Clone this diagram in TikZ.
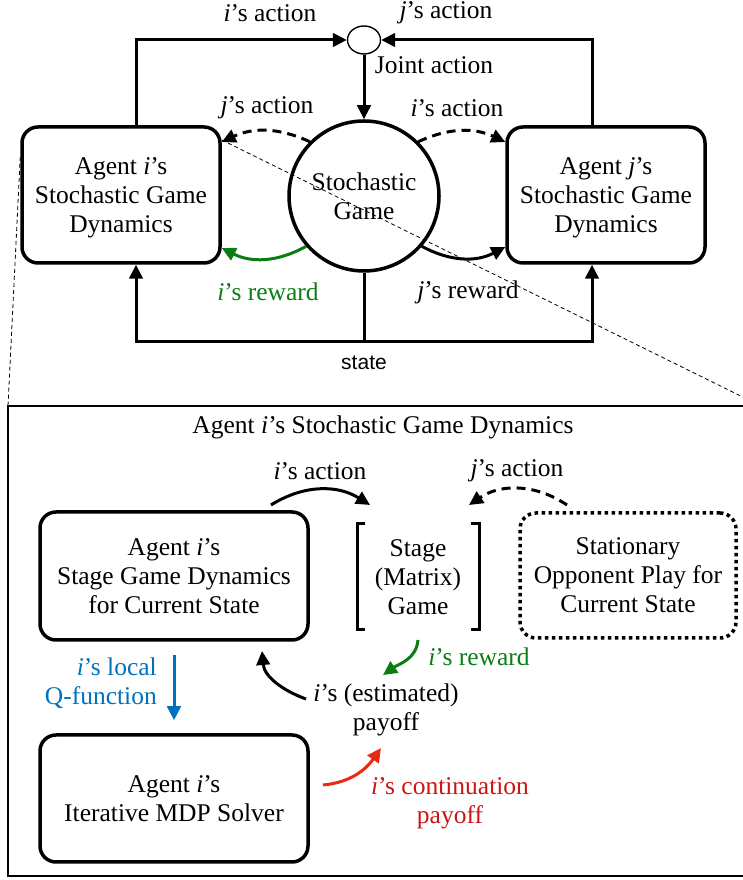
\documentclass[tikz,border=0pt]{standalone}
\usepackage{fontspec}
\setmainfont{Liberation Serif}
\setsansfont{Liberation Sans}
\usetikzlibrary{arrows.meta,shapes.geometric,calc}
\definecolor{mygreen}{RGB}{10,125,20}
\definecolor{myblue}{RGB}{0,114,188}
\definecolor{myred}{RGB}{205,20,20}
\definecolor{myredarrow}{RGB}{235,40,20}
\begin{document}
\begin{tikzpicture}[x=1pt,y=1pt,
  every node/.style={font=\fontsize{25.5}{29}\selectfont, inner sep=0pt, align=center},
  rbox/.style={draw, line width=3.5pt, rounded corners=16pt, minimum width=198pt, minimum height=136pt},
  sbox/.style={draw, line width=3.5pt, rounded corners=16pt, minimum width=268pt, minimum height=128pt},
  arr/.style={line width=3pt, -{Triangle[length=14pt,width=13.5pt]}},
  dasharr/.style={arr, dash pattern=on 9pt off 6pt},
  zoomline/.style={line width=0.8pt, dash pattern=on 4pt off 3pt},
  brk/.style={line width=3pt}
]
\useasboundingbox (0,0) rectangle (743,880);
\clip (0,0) rectangle (743,880);

% ---------- upper part ----------
\node[draw, ellipse, line width=1.4pt, minimum width=33pt, minimum height=28pt] (sc) at (364,840) {};
\node[draw, circle, line width=3.5pt, minimum size=150pt] (sg) at (364,684) {Stochastic\\Game};
\node[rbox, label={[yshift=-3pt]center:Agent \textit{i}’s\\Stochastic Game\\Dynamics}] (agi) at (121,685) {};
\node[rbox, label={[yshift=-3pt]center:Agent \textit{j}’s\\Stochastic Game\\Dynamics}] (agj) at (606,685) {};

\draw[arr] ([xshift=15pt]agi.north) |- (sc.west);
\draw[arr] ([xshift=-14pt]agj.north) |- (sc.east);
\node (lia) at (270,867) {\textit{i}’s action};
\node (lja) at (446,867) {\textit{j}’s action};

\draw[arr] (sc.south) -- (sg.north);
\node (lj) at (434,815) {Joint action};

\draw[dasharr] (sg.135) to[bend right=25] ([yshift=53pt]agi.east);
\draw[dasharr] (sg.45) to[bend left=25] ([yshift=53pt]agj.west);
\node (lja2) at (267,772) {\textit{j}’s action};
\node (lia2) at (457,772) {\textit{i}’s action};

\draw[arr, mygreen] (sg.221) to[bend left=28] ([yshift=-53pt]agi.east);
\draw[arr] (sg.-41) to[bend right=28] ([yshift=-52pt]agj.west);
\node[text=mygreen] (lir) at (268,588) {\textit{i}’s reward};
\node (ljr) at (468,588) {\textit{j}’s reward};

\coordinate (sb) at (364,538);
\draw[line width=3pt] (sg.south) -- (sb);
\draw[arr] (sb) -| ([xshift=15pt]agi.south);
\draw[arr] (sb) -| ([xshift=-14pt]agj.south);
\node[font=\sffamily\fontsize{21}{24}\selectfont] (st) at (364,517) {state};

% zoom lines
\coordinate (zl) at (8,474);
\coordinate (zr) at (761,474);
\draw[zoomline] ([yshift=38pt]agi.west) -- (zl);
\draw[zoomline] ([yshift=55pt]agi.east) -- (zr);

% ---------- lower part ----------
\node[draw, line width=2pt, minimum width=753pt, minimum height=470pt] (lb) at (384.5,239) {};
\node (tt) at (383,453) {Agent \textit{i}’s Stochastic Game Dynamics};

\node[sbox] (sgd) at (174,304) {Agent \textit{i}’s\\Stage Game Dynamics\\for Current State};
\node (stage) at (418,303) {Stage\\(Matrix)\\Game};
\draw[brk] ($(stage.center)+(-53,53)$) -- ++(-8,0) -- ++(0,-106) -- ++(8,0);
\draw[brk] ($(stage.center)+(53,53)$) -- ++(8,0) -- ++(0,-106) -- ++(-8,0);
\node[draw, line width=3.5pt, dash pattern=on 3.5pt off 3.5pt, rounded corners=16pt,
      minimum width=216pt, minimum height=125pt] (opp) at (628,304.5)
      {Stationary\\Opponent Play for\\Current State};
\node[sbox, minimum height=127pt] (mdp) at (174,81.5) {Agent \textit{i}’s\\Iterative MDP Solver};

\coordinate (a1s) at (271,375);
\coordinate (a1e) at (370,375);
\draw[arr] (a1s) to[bend left=32] (a1e);
\node (lia3) at (320,409) {\textit{i}’s action};
\coordinate (a2s) at (567,375);
\coordinate (a2e) at (469,375);
\draw[dasharr] (a2s) to[bend right=34] (a2e);
\node (lja3) at (517,409) {\textit{j}’s action};

\draw[arr, myblue] ([yshift=-13pt]sgd.south) -- ([yshift=13pt]mdp.north);
\node[text=myblue, anchor=east, align=right] (ql) at (157,197) {\textit{i}’s local\\Q-function};

\node (est) at (386,170.5) {\textit{i}’s (estimated)\\payoff};
\coordinate (b1s) at (306,181);
\coordinate (b1e) at (262,229);
\draw[arr] (b1s) to[out=160,in=-85] (b1e);

\coordinate (g1s) at (418,240);
\coordinate (g1e) at (383,205);
\draw[arr, mygreen] (g1s) to[out=-95,in=35] (g1e);
\node[text=mygreen] (rw) at (479,223) {\textit{i}’s reward};

\coordinate (r1s) at (323,95);
\coordinate (r1e) at (381,132);
\draw[arr, myredarrow] (r1s) to[out=5,in=-125] (r1e);
\node[text=myred] (cp) at (450,77) {\textit{i}’s continuation\\payoff};
\end{tikzpicture}
\end{document}
